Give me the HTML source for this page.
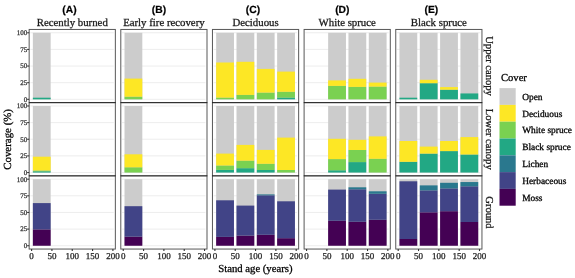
<!DOCTYPE html>
<html><head><meta charset="utf-8"><style>
html,body{margin:0;padding:0;background:#fff;width:575px;height:278px;overflow:hidden}
svg{display:block}
text{text-rendering:geometricPrecision}
.s{font-family:"Liberation Serif",serif;stroke-width:0.28px}
.k{stroke:#000} .g{stroke:#3a3a3a} .g2{stroke:#262626} .d{stroke:#1a1a1a}
.b{font-family:"Liberation Sans",sans-serif;stroke:#000;stroke-width:0.2px}
</style></head><body>
<div style="will-change:transform;width:575px;height:278px"><svg width="575" height="278" viewBox="0 0 575 278">
<rect x="0" y="0" width="575" height="278" fill="#fff"/>
<line x1="30.35" x2="113.75" y1="99.32" y2="99.32" stroke="#EBEBEB" stroke-width="0.9"/>
<line x1="30.35" x2="113.75" y1="82.69" y2="82.69" stroke="#EBEBEB" stroke-width="0.9"/>
<line x1="30.35" x2="113.75" y1="66.05" y2="66.05" stroke="#EBEBEB" stroke-width="0.9"/>
<line x1="30.35" x2="113.75" y1="49.41" y2="49.41" stroke="#EBEBEB" stroke-width="0.9"/>
<line x1="30.35" x2="113.75" y1="32.78" y2="32.78" stroke="#EBEBEB" stroke-width="0.9"/>
<line x1="122.00" x2="205.40" y1="99.32" y2="99.32" stroke="#EBEBEB" stroke-width="0.9"/>
<line x1="122.00" x2="205.40" y1="82.69" y2="82.69" stroke="#EBEBEB" stroke-width="0.9"/>
<line x1="122.00" x2="205.40" y1="66.05" y2="66.05" stroke="#EBEBEB" stroke-width="0.9"/>
<line x1="122.00" x2="205.40" y1="49.41" y2="49.41" stroke="#EBEBEB" stroke-width="0.9"/>
<line x1="122.00" x2="205.40" y1="32.78" y2="32.78" stroke="#EBEBEB" stroke-width="0.9"/>
<line x1="213.65" x2="297.05" y1="99.32" y2="99.32" stroke="#EBEBEB" stroke-width="0.9"/>
<line x1="213.65" x2="297.05" y1="82.69" y2="82.69" stroke="#EBEBEB" stroke-width="0.9"/>
<line x1="213.65" x2="297.05" y1="66.05" y2="66.05" stroke="#EBEBEB" stroke-width="0.9"/>
<line x1="213.65" x2="297.05" y1="49.41" y2="49.41" stroke="#EBEBEB" stroke-width="0.9"/>
<line x1="213.65" x2="297.05" y1="32.78" y2="32.78" stroke="#EBEBEB" stroke-width="0.9"/>
<line x1="305.30" x2="388.70" y1="99.32" y2="99.32" stroke="#EBEBEB" stroke-width="0.9"/>
<line x1="305.30" x2="388.70" y1="82.69" y2="82.69" stroke="#EBEBEB" stroke-width="0.9"/>
<line x1="305.30" x2="388.70" y1="66.05" y2="66.05" stroke="#EBEBEB" stroke-width="0.9"/>
<line x1="305.30" x2="388.70" y1="49.41" y2="49.41" stroke="#EBEBEB" stroke-width="0.9"/>
<line x1="305.30" x2="388.70" y1="32.78" y2="32.78" stroke="#EBEBEB" stroke-width="0.9"/>
<line x1="396.95" x2="480.35" y1="99.32" y2="99.32" stroke="#EBEBEB" stroke-width="0.9"/>
<line x1="396.95" x2="480.35" y1="82.69" y2="82.69" stroke="#EBEBEB" stroke-width="0.9"/>
<line x1="396.95" x2="480.35" y1="66.05" y2="66.05" stroke="#EBEBEB" stroke-width="0.9"/>
<line x1="396.95" x2="480.35" y1="49.41" y2="49.41" stroke="#EBEBEB" stroke-width="0.9"/>
<line x1="396.95" x2="480.35" y1="32.78" y2="32.78" stroke="#EBEBEB" stroke-width="0.9"/>
<line x1="30.35" x2="113.75" y1="172.52" y2="172.52" stroke="#EBEBEB" stroke-width="0.9"/>
<line x1="30.35" x2="113.75" y1="155.89" y2="155.89" stroke="#EBEBEB" stroke-width="0.9"/>
<line x1="30.35" x2="113.75" y1="139.25" y2="139.25" stroke="#EBEBEB" stroke-width="0.9"/>
<line x1="30.35" x2="113.75" y1="122.61" y2="122.61" stroke="#EBEBEB" stroke-width="0.9"/>
<line x1="30.35" x2="113.75" y1="105.98" y2="105.98" stroke="#EBEBEB" stroke-width="0.9"/>
<line x1="122.00" x2="205.40" y1="172.52" y2="172.52" stroke="#EBEBEB" stroke-width="0.9"/>
<line x1="122.00" x2="205.40" y1="155.89" y2="155.89" stroke="#EBEBEB" stroke-width="0.9"/>
<line x1="122.00" x2="205.40" y1="139.25" y2="139.25" stroke="#EBEBEB" stroke-width="0.9"/>
<line x1="122.00" x2="205.40" y1="122.61" y2="122.61" stroke="#EBEBEB" stroke-width="0.9"/>
<line x1="122.00" x2="205.40" y1="105.98" y2="105.98" stroke="#EBEBEB" stroke-width="0.9"/>
<line x1="213.65" x2="297.05" y1="172.52" y2="172.52" stroke="#EBEBEB" stroke-width="0.9"/>
<line x1="213.65" x2="297.05" y1="155.89" y2="155.89" stroke="#EBEBEB" stroke-width="0.9"/>
<line x1="213.65" x2="297.05" y1="139.25" y2="139.25" stroke="#EBEBEB" stroke-width="0.9"/>
<line x1="213.65" x2="297.05" y1="122.61" y2="122.61" stroke="#EBEBEB" stroke-width="0.9"/>
<line x1="213.65" x2="297.05" y1="105.98" y2="105.98" stroke="#EBEBEB" stroke-width="0.9"/>
<line x1="305.30" x2="388.70" y1="172.52" y2="172.52" stroke="#EBEBEB" stroke-width="0.9"/>
<line x1="305.30" x2="388.70" y1="155.89" y2="155.89" stroke="#EBEBEB" stroke-width="0.9"/>
<line x1="305.30" x2="388.70" y1="139.25" y2="139.25" stroke="#EBEBEB" stroke-width="0.9"/>
<line x1="305.30" x2="388.70" y1="122.61" y2="122.61" stroke="#EBEBEB" stroke-width="0.9"/>
<line x1="305.30" x2="388.70" y1="105.98" y2="105.98" stroke="#EBEBEB" stroke-width="0.9"/>
<line x1="396.95" x2="480.35" y1="172.52" y2="172.52" stroke="#EBEBEB" stroke-width="0.9"/>
<line x1="396.95" x2="480.35" y1="155.89" y2="155.89" stroke="#EBEBEB" stroke-width="0.9"/>
<line x1="396.95" x2="480.35" y1="139.25" y2="139.25" stroke="#EBEBEB" stroke-width="0.9"/>
<line x1="396.95" x2="480.35" y1="122.61" y2="122.61" stroke="#EBEBEB" stroke-width="0.9"/>
<line x1="396.95" x2="480.35" y1="105.98" y2="105.98" stroke="#EBEBEB" stroke-width="0.9"/>
<line x1="30.35" x2="113.75" y1="245.72" y2="245.72" stroke="#EBEBEB" stroke-width="0.9"/>
<line x1="30.35" x2="113.75" y1="229.09" y2="229.09" stroke="#EBEBEB" stroke-width="0.9"/>
<line x1="30.35" x2="113.75" y1="212.45" y2="212.45" stroke="#EBEBEB" stroke-width="0.9"/>
<line x1="30.35" x2="113.75" y1="195.81" y2="195.81" stroke="#EBEBEB" stroke-width="0.9"/>
<line x1="30.35" x2="113.75" y1="179.18" y2="179.18" stroke="#EBEBEB" stroke-width="0.9"/>
<line x1="122.00" x2="205.40" y1="245.72" y2="245.72" stroke="#EBEBEB" stroke-width="0.9"/>
<line x1="122.00" x2="205.40" y1="229.09" y2="229.09" stroke="#EBEBEB" stroke-width="0.9"/>
<line x1="122.00" x2="205.40" y1="212.45" y2="212.45" stroke="#EBEBEB" stroke-width="0.9"/>
<line x1="122.00" x2="205.40" y1="195.81" y2="195.81" stroke="#EBEBEB" stroke-width="0.9"/>
<line x1="122.00" x2="205.40" y1="179.18" y2="179.18" stroke="#EBEBEB" stroke-width="0.9"/>
<line x1="213.65" x2="297.05" y1="245.72" y2="245.72" stroke="#EBEBEB" stroke-width="0.9"/>
<line x1="213.65" x2="297.05" y1="229.09" y2="229.09" stroke="#EBEBEB" stroke-width="0.9"/>
<line x1="213.65" x2="297.05" y1="212.45" y2="212.45" stroke="#EBEBEB" stroke-width="0.9"/>
<line x1="213.65" x2="297.05" y1="195.81" y2="195.81" stroke="#EBEBEB" stroke-width="0.9"/>
<line x1="213.65" x2="297.05" y1="179.18" y2="179.18" stroke="#EBEBEB" stroke-width="0.9"/>
<line x1="305.30" x2="388.70" y1="245.72" y2="245.72" stroke="#EBEBEB" stroke-width="0.9"/>
<line x1="305.30" x2="388.70" y1="229.09" y2="229.09" stroke="#EBEBEB" stroke-width="0.9"/>
<line x1="305.30" x2="388.70" y1="212.45" y2="212.45" stroke="#EBEBEB" stroke-width="0.9"/>
<line x1="305.30" x2="388.70" y1="195.81" y2="195.81" stroke="#EBEBEB" stroke-width="0.9"/>
<line x1="305.30" x2="388.70" y1="179.18" y2="179.18" stroke="#EBEBEB" stroke-width="0.9"/>
<line x1="396.95" x2="480.35" y1="245.72" y2="245.72" stroke="#EBEBEB" stroke-width="0.9"/>
<line x1="396.95" x2="480.35" y1="229.09" y2="229.09" stroke="#EBEBEB" stroke-width="0.9"/>
<line x1="396.95" x2="480.35" y1="212.45" y2="212.45" stroke="#EBEBEB" stroke-width="0.9"/>
<line x1="396.95" x2="480.35" y1="195.81" y2="195.81" stroke="#EBEBEB" stroke-width="0.9"/>
<line x1="396.95" x2="480.35" y1="179.18" y2="179.18" stroke="#EBEBEB" stroke-width="0.9"/>
<rect x="32.86" y="32.78" width="17.8" height="66.55" fill="#CCCCCC"/>
<rect x="32.86" y="97.70" width="17.8" height="1.62" fill="#22A884"/>
<rect x="124.51" y="32.78" width="17.8" height="66.55" fill="#CCCCCC"/>
<rect x="124.51" y="96.70" width="17.8" height="2.62" fill="#7AD151"/>
<rect x="124.51" y="78.60" width="17.8" height="18.10" fill="#FDE725"/>
<rect x="216.16" y="32.78" width="17.8" height="66.55" fill="#CCCCCC"/>
<rect x="216.16" y="97.60" width="17.8" height="1.72" fill="#7AD151"/>
<rect x="216.16" y="62.50" width="17.8" height="35.10" fill="#FDE725"/>
<rect x="236.49" y="32.78" width="17.8" height="66.55" fill="#CCCCCC"/>
<rect x="236.49" y="94.90" width="17.8" height="4.42" fill="#7AD151"/>
<rect x="236.49" y="61.80" width="17.8" height="33.10" fill="#FDE725"/>
<rect x="256.81" y="32.78" width="17.8" height="66.55" fill="#CCCCCC"/>
<rect x="256.81" y="92.60" width="17.8" height="6.72" fill="#7AD151"/>
<rect x="256.81" y="68.90" width="17.8" height="23.70" fill="#FDE725"/>
<rect x="277.14" y="32.78" width="17.8" height="66.55" fill="#CCCCCC"/>
<rect x="277.14" y="97.60" width="17.8" height="1.72" fill="#22A884"/>
<rect x="277.14" y="91.80" width="17.8" height="5.80" fill="#7AD151"/>
<rect x="277.14" y="71.60" width="17.8" height="20.20" fill="#FDE725"/>
<rect x="328.14" y="32.78" width="17.8" height="66.55" fill="#CCCCCC"/>
<rect x="328.14" y="85.90" width="17.8" height="13.42" fill="#7AD151"/>
<rect x="328.14" y="80.40" width="17.8" height="5.50" fill="#FDE725"/>
<rect x="348.46" y="32.78" width="17.8" height="66.55" fill="#CCCCCC"/>
<rect x="348.46" y="86.90" width="17.8" height="12.42" fill="#7AD151"/>
<rect x="348.46" y="78.80" width="17.8" height="8.10" fill="#FDE725"/>
<rect x="368.79" y="32.78" width="17.8" height="66.55" fill="#CCCCCC"/>
<rect x="368.79" y="86.60" width="17.8" height="12.72" fill="#7AD151"/>
<rect x="368.79" y="82.60" width="17.8" height="4.00" fill="#FDE725"/>
<rect x="399.46" y="32.78" width="17.8" height="66.55" fill="#CCCCCC"/>
<rect x="399.46" y="97.70" width="17.8" height="1.62" fill="#22A884"/>
<rect x="419.79" y="32.78" width="17.8" height="66.55" fill="#CCCCCC"/>
<rect x="419.79" y="83.20" width="17.8" height="16.12" fill="#22A884"/>
<rect x="419.79" y="79.80" width="17.8" height="3.40" fill="#FDE725"/>
<rect x="440.11" y="32.78" width="17.8" height="66.55" fill="#CCCCCC"/>
<rect x="440.11" y="89.70" width="17.8" height="9.62" fill="#22A884"/>
<rect x="440.11" y="87.10" width="17.8" height="2.60" fill="#FDE725"/>
<rect x="460.44" y="32.78" width="17.8" height="66.55" fill="#CCCCCC"/>
<rect x="460.44" y="93.45" width="17.8" height="5.87" fill="#22A884"/>
<rect x="32.86" y="105.98" width="17.8" height="66.55" fill="#CCCCCC"/>
<rect x="32.86" y="171.30" width="17.8" height="1.22" fill="#22A884"/>
<rect x="32.86" y="170.50" width="17.8" height="0.80" fill="#7AD151"/>
<rect x="32.86" y="156.70" width="17.8" height="13.80" fill="#FDE725"/>
<rect x="124.51" y="105.98" width="17.8" height="66.55" fill="#CCCCCC"/>
<rect x="124.51" y="167.30" width="17.8" height="5.22" fill="#7AD151"/>
<rect x="124.51" y="154.30" width="17.8" height="13.00" fill="#FDE725"/>
<rect x="216.16" y="105.98" width="17.8" height="66.55" fill="#CCCCCC"/>
<rect x="216.16" y="169.90" width="17.8" height="2.62" fill="#22A884"/>
<rect x="216.16" y="165.50" width="17.8" height="4.40" fill="#7AD151"/>
<rect x="216.16" y="153.60" width="17.8" height="11.90" fill="#FDE725"/>
<rect x="236.49" y="105.98" width="17.8" height="66.55" fill="#CCCCCC"/>
<rect x="236.49" y="168.20" width="17.8" height="4.32" fill="#22A884"/>
<rect x="236.49" y="160.70" width="17.8" height="7.50" fill="#7AD151"/>
<rect x="236.49" y="144.90" width="17.8" height="15.80" fill="#FDE725"/>
<rect x="256.81" y="105.98" width="17.8" height="66.55" fill="#CCCCCC"/>
<rect x="256.81" y="170.00" width="17.8" height="2.52" fill="#22A884"/>
<rect x="256.81" y="163.80" width="17.8" height="6.20" fill="#7AD151"/>
<rect x="256.81" y="149.90" width="17.8" height="13.90" fill="#FDE725"/>
<rect x="277.14" y="105.98" width="17.8" height="66.55" fill="#CCCCCC"/>
<rect x="277.14" y="170.00" width="17.8" height="2.52" fill="#7AD151"/>
<rect x="277.14" y="137.60" width="17.8" height="32.40" fill="#FDE725"/>
<rect x="328.14" y="105.98" width="17.8" height="66.55" fill="#CCCCCC"/>
<rect x="328.14" y="170.30" width="17.8" height="2.22" fill="#22A884"/>
<rect x="328.14" y="159.10" width="17.8" height="11.20" fill="#7AD151"/>
<rect x="328.14" y="138.80" width="17.8" height="20.30" fill="#FDE725"/>
<rect x="348.46" y="105.98" width="17.8" height="66.55" fill="#CCCCCC"/>
<rect x="348.46" y="162.10" width="17.8" height="10.42" fill="#22A884"/>
<rect x="348.46" y="150.00" width="17.8" height="12.10" fill="#7AD151"/>
<rect x="348.46" y="139.80" width="17.8" height="10.20" fill="#FDE725"/>
<rect x="368.79" y="105.98" width="17.8" height="66.55" fill="#CCCCCC"/>
<rect x="368.79" y="158.80" width="17.8" height="13.72" fill="#7AD151"/>
<rect x="368.79" y="136.40" width="17.8" height="22.40" fill="#FDE725"/>
<rect x="399.46" y="105.98" width="17.8" height="66.55" fill="#CCCCCC"/>
<rect x="399.46" y="161.80" width="17.8" height="10.72" fill="#22A884"/>
<rect x="399.46" y="141.00" width="17.8" height="20.80" fill="#FDE725"/>
<rect x="419.79" y="105.98" width="17.8" height="66.55" fill="#CCCCCC"/>
<rect x="419.79" y="153.60" width="17.8" height="18.92" fill="#22A884"/>
<rect x="419.79" y="146.60" width="17.8" height="7.00" fill="#FDE725"/>
<rect x="440.11" y="105.98" width="17.8" height="66.55" fill="#CCCCCC"/>
<rect x="440.11" y="151.10" width="17.8" height="21.42" fill="#22A884"/>
<rect x="440.11" y="141.00" width="17.8" height="10.10" fill="#FDE725"/>
<rect x="460.44" y="105.98" width="17.8" height="66.55" fill="#CCCCCC"/>
<rect x="460.44" y="154.50" width="17.8" height="18.02" fill="#22A884"/>
<rect x="460.44" y="137.10" width="17.8" height="17.40" fill="#FDE725"/>
<rect x="32.86" y="179.18" width="17.8" height="66.55" fill="#CCCCCC"/>
<rect x="32.86" y="229.40" width="17.8" height="16.32" fill="#440154"/>
<rect x="32.86" y="203.10" width="17.8" height="26.30" fill="#414487"/>
<rect x="124.51" y="179.18" width="17.8" height="66.55" fill="#CCCCCC"/>
<rect x="124.51" y="236.65" width="17.8" height="9.07" fill="#440154"/>
<rect x="124.51" y="206.20" width="17.8" height="30.45" fill="#414487"/>
<rect x="216.16" y="179.18" width="17.8" height="66.55" fill="#CCCCCC"/>
<rect x="216.16" y="236.90" width="17.8" height="8.82" fill="#440154"/>
<rect x="216.16" y="200.30" width="17.8" height="36.60" fill="#414487"/>
<rect x="236.49" y="179.18" width="17.8" height="66.55" fill="#CCCCCC"/>
<rect x="236.49" y="235.60" width="17.8" height="10.12" fill="#440154"/>
<rect x="236.49" y="205.60" width="17.8" height="30.00" fill="#414487"/>
<rect x="256.81" y="179.18" width="17.8" height="66.55" fill="#CCCCCC"/>
<rect x="256.81" y="234.80" width="17.8" height="10.92" fill="#440154"/>
<rect x="256.81" y="195.30" width="17.8" height="39.50" fill="#414487"/>
<rect x="256.81" y="194.40" width="17.8" height="0.90" fill="#2A788E"/>
<rect x="277.14" y="179.18" width="17.8" height="66.55" fill="#CCCCCC"/>
<rect x="277.14" y="238.20" width="17.8" height="7.52" fill="#440154"/>
<rect x="277.14" y="201.30" width="17.8" height="36.90" fill="#414487"/>
<rect x="328.14" y="179.18" width="17.8" height="66.55" fill="#CCCCCC"/>
<rect x="328.14" y="220.80" width="17.8" height="24.92" fill="#440154"/>
<rect x="328.14" y="189.60" width="17.8" height="31.20" fill="#414487"/>
<rect x="348.46" y="179.18" width="17.8" height="66.55" fill="#CCCCCC"/>
<rect x="348.46" y="221.80" width="17.8" height="23.92" fill="#440154"/>
<rect x="348.46" y="189.30" width="17.8" height="32.50" fill="#414487"/>
<rect x="348.46" y="187.30" width="17.8" height="2.00" fill="#2A788E"/>
<rect x="368.79" y="179.18" width="17.8" height="66.55" fill="#CCCCCC"/>
<rect x="368.79" y="219.80" width="17.8" height="25.92" fill="#440154"/>
<rect x="368.79" y="193.80" width="17.8" height="26.00" fill="#414487"/>
<rect x="368.79" y="191.30" width="17.8" height="2.50" fill="#2A788E"/>
<rect x="399.46" y="179.18" width="17.8" height="66.55" fill="#CCCCCC"/>
<rect x="399.46" y="239.00" width="17.8" height="6.72" fill="#440154"/>
<rect x="399.46" y="181.30" width="17.8" height="57.70" fill="#414487"/>
<rect x="419.79" y="179.18" width="17.8" height="66.55" fill="#CCCCCC"/>
<rect x="419.79" y="212.30" width="17.8" height="33.42" fill="#440154"/>
<rect x="419.79" y="190.37" width="17.8" height="21.93" fill="#414487"/>
<rect x="419.79" y="185.38" width="17.8" height="4.99" fill="#2A788E"/>
<rect x="440.11" y="179.18" width="17.8" height="66.55" fill="#CCCCCC"/>
<rect x="440.11" y="211.20" width="17.8" height="34.52" fill="#440154"/>
<rect x="440.11" y="188.40" width="17.8" height="22.80" fill="#414487"/>
<rect x="440.11" y="182.80" width="17.8" height="5.60" fill="#2A788E"/>
<rect x="460.44" y="179.18" width="17.8" height="66.55" fill="#CCCCCC"/>
<rect x="460.44" y="222.00" width="17.8" height="23.72" fill="#440154"/>
<rect x="460.44" y="186.30" width="17.8" height="35.70" fill="#414487"/>
<rect x="460.44" y="182.05" width="17.8" height="4.25" fill="#2A788E"/>
<rect x="29.15" y="29.45" width="86.20" height="73.20" fill="none" stroke="#000" stroke-opacity="0.66" stroke-width="1.0"/>
<rect x="120.80" y="29.45" width="86.20" height="73.20" fill="none" stroke="#000" stroke-opacity="0.66" stroke-width="1.0"/>
<rect x="212.45" y="29.45" width="86.20" height="73.20" fill="none" stroke="#000" stroke-opacity="0.66" stroke-width="1.0"/>
<rect x="304.10" y="29.45" width="86.20" height="73.20" fill="none" stroke="#000" stroke-opacity="0.66" stroke-width="1.0"/>
<rect x="395.75" y="29.45" width="86.20" height="73.20" fill="none" stroke="#000" stroke-opacity="0.66" stroke-width="1.0"/>
<rect x="29.15" y="102.65" width="86.20" height="73.20" fill="none" stroke="#000" stroke-opacity="0.66" stroke-width="1.0"/>
<rect x="120.80" y="102.65" width="86.20" height="73.20" fill="none" stroke="#000" stroke-opacity="0.66" stroke-width="1.0"/>
<rect x="212.45" y="102.65" width="86.20" height="73.20" fill="none" stroke="#000" stroke-opacity="0.66" stroke-width="1.0"/>
<rect x="304.10" y="102.65" width="86.20" height="73.20" fill="none" stroke="#000" stroke-opacity="0.66" stroke-width="1.0"/>
<rect x="395.75" y="102.65" width="86.20" height="73.20" fill="none" stroke="#000" stroke-opacity="0.66" stroke-width="1.0"/>
<rect x="29.15" y="175.85" width="86.20" height="73.20" fill="none" stroke="#000" stroke-opacity="0.66" stroke-width="1.0"/>
<rect x="120.80" y="175.85" width="86.20" height="73.20" fill="none" stroke="#000" stroke-opacity="0.66" stroke-width="1.0"/>
<rect x="212.45" y="175.85" width="86.20" height="73.20" fill="none" stroke="#000" stroke-opacity="0.66" stroke-width="1.0"/>
<rect x="304.10" y="175.85" width="86.20" height="73.20" fill="none" stroke="#000" stroke-opacity="0.66" stroke-width="1.0"/>
<rect x="395.75" y="175.85" width="86.20" height="73.20" fill="none" stroke="#000" stroke-opacity="0.66" stroke-width="1.0"/>
<line x1="27.15" x2="29.15" y1="99.32" y2="99.32" stroke="#333333" stroke-width="1.1"/>
<text x="27.15" y="101.72" text-anchor="end" font-size="7.0" fill="#3a3a3a" class="s g">0</text>
<line x1="27.15" x2="29.15" y1="82.69" y2="82.69" stroke="#333333" stroke-width="1.1"/>
<text x="27.15" y="85.09" text-anchor="end" font-size="7.0" fill="#3a3a3a" class="s g">25</text>
<line x1="27.15" x2="29.15" y1="66.05" y2="66.05" stroke="#333333" stroke-width="1.1"/>
<text x="27.15" y="68.45" text-anchor="end" font-size="7.0" fill="#3a3a3a" class="s g">50</text>
<line x1="27.15" x2="29.15" y1="49.41" y2="49.41" stroke="#333333" stroke-width="1.1"/>
<text x="27.15" y="51.81" text-anchor="end" font-size="7.0" fill="#3a3a3a" class="s g">75</text>
<line x1="27.15" x2="29.15" y1="32.78" y2="32.78" stroke="#333333" stroke-width="1.1"/>
<text x="27.15" y="35.18" text-anchor="end" font-size="7.0" fill="#3a3a3a" class="s g">100</text>
<line x1="27.15" x2="29.15" y1="172.52" y2="172.52" stroke="#333333" stroke-width="1.1"/>
<text x="27.15" y="174.92" text-anchor="end" font-size="7.0" fill="#3a3a3a" class="s g">0</text>
<line x1="27.15" x2="29.15" y1="155.89" y2="155.89" stroke="#333333" stroke-width="1.1"/>
<text x="27.15" y="158.29" text-anchor="end" font-size="7.0" fill="#3a3a3a" class="s g">25</text>
<line x1="27.15" x2="29.15" y1="139.25" y2="139.25" stroke="#333333" stroke-width="1.1"/>
<text x="27.15" y="141.65" text-anchor="end" font-size="7.0" fill="#3a3a3a" class="s g">50</text>
<line x1="27.15" x2="29.15" y1="122.61" y2="122.61" stroke="#333333" stroke-width="1.1"/>
<text x="27.15" y="125.01" text-anchor="end" font-size="7.0" fill="#3a3a3a" class="s g">75</text>
<line x1="27.15" x2="29.15" y1="105.98" y2="105.98" stroke="#333333" stroke-width="1.1"/>
<text x="27.15" y="108.38" text-anchor="end" font-size="7.0" fill="#3a3a3a" class="s g">100</text>
<line x1="27.15" x2="29.15" y1="245.72" y2="245.72" stroke="#333333" stroke-width="1.1"/>
<text x="27.15" y="248.12" text-anchor="end" font-size="7.0" fill="#3a3a3a" class="s g">0</text>
<line x1="27.15" x2="29.15" y1="229.09" y2="229.09" stroke="#333333" stroke-width="1.1"/>
<text x="27.15" y="231.49" text-anchor="end" font-size="7.0" fill="#3a3a3a" class="s g">25</text>
<line x1="27.15" x2="29.15" y1="212.45" y2="212.45" stroke="#333333" stroke-width="1.1"/>
<text x="27.15" y="214.85" text-anchor="end" font-size="7.0" fill="#3a3a3a" class="s g">50</text>
<line x1="27.15" x2="29.15" y1="195.81" y2="195.81" stroke="#333333" stroke-width="1.1"/>
<text x="27.15" y="198.21" text-anchor="end" font-size="7.0" fill="#3a3a3a" class="s g">75</text>
<line x1="27.15" x2="29.15" y1="179.18" y2="179.18" stroke="#333333" stroke-width="1.1"/>
<text x="27.15" y="181.58" text-anchor="end" font-size="7.0" fill="#3a3a3a" class="s g">100</text>
<line x1="31.60" x2="31.60" y1="249.05" y2="251.05" stroke="#333333" stroke-width="1.1"/>
<text x="31.60" y="258.8" text-anchor="middle" font-size="9.0" fill="#262626" class="s g2">0</text>
<line x1="51.92" x2="51.92" y1="249.05" y2="251.05" stroke="#333333" stroke-width="1.1"/>
<text x="51.92" y="258.8" text-anchor="middle" font-size="9.0" fill="#262626" class="s g2">50</text>
<line x1="72.25" x2="72.25" y1="249.05" y2="251.05" stroke="#333333" stroke-width="1.1"/>
<text x="72.25" y="258.8" text-anchor="middle" font-size="9.0" fill="#262626" class="s g2">100</text>
<line x1="92.57" x2="92.57" y1="249.05" y2="251.05" stroke="#333333" stroke-width="1.1"/>
<text x="92.57" y="258.8" text-anchor="middle" font-size="9.0" fill="#262626" class="s g2">150</text>
<line x1="112.90" x2="112.90" y1="249.05" y2="251.05" stroke="#333333" stroke-width="1.1"/>
<text x="112.90" y="258.8" text-anchor="middle" font-size="9.0" fill="#262626" class="s g2">200</text>
<line x1="123.25" x2="123.25" y1="249.05" y2="251.05" stroke="#333333" stroke-width="1.1"/>
<text x="123.25" y="258.8" text-anchor="middle" font-size="9.0" fill="#262626" class="s g2">0</text>
<line x1="143.58" x2="143.58" y1="249.05" y2="251.05" stroke="#333333" stroke-width="1.1"/>
<text x="143.58" y="258.8" text-anchor="middle" font-size="9.0" fill="#262626" class="s g2">50</text>
<line x1="163.90" x2="163.90" y1="249.05" y2="251.05" stroke="#333333" stroke-width="1.1"/>
<text x="163.90" y="258.8" text-anchor="middle" font-size="9.0" fill="#262626" class="s g2">100</text>
<line x1="184.23" x2="184.23" y1="249.05" y2="251.05" stroke="#333333" stroke-width="1.1"/>
<text x="184.23" y="258.8" text-anchor="middle" font-size="9.0" fill="#262626" class="s g2">150</text>
<line x1="204.55" x2="204.55" y1="249.05" y2="251.05" stroke="#333333" stroke-width="1.1"/>
<text x="204.55" y="258.8" text-anchor="middle" font-size="9.0" fill="#262626" class="s g2">200</text>
<line x1="214.90" x2="214.90" y1="249.05" y2="251.05" stroke="#333333" stroke-width="1.1"/>
<text x="214.90" y="258.8" text-anchor="middle" font-size="9.0" fill="#262626" class="s g2">0</text>
<line x1="235.22" x2="235.22" y1="249.05" y2="251.05" stroke="#333333" stroke-width="1.1"/>
<text x="235.22" y="258.8" text-anchor="middle" font-size="9.0" fill="#262626" class="s g2">50</text>
<line x1="255.55" x2="255.55" y1="249.05" y2="251.05" stroke="#333333" stroke-width="1.1"/>
<text x="255.55" y="258.8" text-anchor="middle" font-size="9.0" fill="#262626" class="s g2">100</text>
<line x1="275.88" x2="275.88" y1="249.05" y2="251.05" stroke="#333333" stroke-width="1.1"/>
<text x="275.88" y="258.8" text-anchor="middle" font-size="9.0" fill="#262626" class="s g2">150</text>
<line x1="296.20" x2="296.20" y1="249.05" y2="251.05" stroke="#333333" stroke-width="1.1"/>
<text x="296.20" y="258.8" text-anchor="middle" font-size="9.0" fill="#262626" class="s g2">200</text>
<line x1="306.55" x2="306.55" y1="249.05" y2="251.05" stroke="#333333" stroke-width="1.1"/>
<text x="306.55" y="258.8" text-anchor="middle" font-size="9.0" fill="#262626" class="s g2">0</text>
<line x1="326.88" x2="326.88" y1="249.05" y2="251.05" stroke="#333333" stroke-width="1.1"/>
<text x="326.88" y="258.8" text-anchor="middle" font-size="9.0" fill="#262626" class="s g2">50</text>
<line x1="347.20" x2="347.20" y1="249.05" y2="251.05" stroke="#333333" stroke-width="1.1"/>
<text x="347.20" y="258.8" text-anchor="middle" font-size="9.0" fill="#262626" class="s g2">100</text>
<line x1="367.52" x2="367.52" y1="249.05" y2="251.05" stroke="#333333" stroke-width="1.1"/>
<text x="367.52" y="258.8" text-anchor="middle" font-size="9.0" fill="#262626" class="s g2">150</text>
<line x1="387.85" x2="387.85" y1="249.05" y2="251.05" stroke="#333333" stroke-width="1.1"/>
<text x="387.85" y="258.8" text-anchor="middle" font-size="9.0" fill="#262626" class="s g2">200</text>
<line x1="398.20" x2="398.20" y1="249.05" y2="251.05" stroke="#333333" stroke-width="1.1"/>
<text x="398.20" y="258.8" text-anchor="middle" font-size="9.0" fill="#262626" class="s g2">0</text>
<line x1="418.52" x2="418.52" y1="249.05" y2="251.05" stroke="#333333" stroke-width="1.1"/>
<text x="418.52" y="258.8" text-anchor="middle" font-size="9.0" fill="#262626" class="s g2">50</text>
<line x1="438.85" x2="438.85" y1="249.05" y2="251.05" stroke="#333333" stroke-width="1.1"/>
<text x="438.85" y="258.8" text-anchor="middle" font-size="9.0" fill="#262626" class="s g2">100</text>
<line x1="459.17" x2="459.17" y1="249.05" y2="251.05" stroke="#333333" stroke-width="1.1"/>
<text x="459.17" y="258.8" text-anchor="middle" font-size="9.0" fill="#262626" class="s g2">150</text>
<line x1="479.50" x2="479.50" y1="249.05" y2="251.05" stroke="#333333" stroke-width="1.1"/>
<text x="479.50" y="258.8" text-anchor="middle" font-size="9.0" fill="#262626" class="s g2">200</text>
<text x="69.45" y="13.3" text-anchor="middle" font-size="10.3" font-weight="bold" fill="#000" class="b">(A)</text>
<text x="72.25" y="26.4" text-anchor="middle" font-size="10.8" fill="#1a1a1a" class="s d">Recently burned</text>
<text x="159.00" y="13.3" text-anchor="middle" font-size="10.3" font-weight="bold" fill="#000" class="b">(B)</text>
<text x="163.90" y="26.4" text-anchor="middle" font-size="10.8" fill="#1a1a1a" class="s d">Early fire recovery</text>
<text x="253.00" y="13.3" text-anchor="middle" font-size="10.3" font-weight="bold" fill="#000" class="b">(C)</text>
<text x="255.55" y="26.4" text-anchor="middle" font-size="10.8" fill="#1a1a1a" class="s d">Deciduous</text>
<text x="342.30" y="13.3" text-anchor="middle" font-size="10.3" font-weight="bold" fill="#000" class="b">(D)</text>
<text x="347.20" y="26.4" text-anchor="middle" font-size="10.8" fill="#1a1a1a" class="s d">White spruce</text>
<text x="431.40" y="13.3" text-anchor="middle" font-size="10.3" font-weight="bold" fill="#000" class="b">(E)</text>
<text x="438.85" y="26.4" text-anchor="middle" font-size="10.8" fill="#1a1a1a" class="s d">Black spruce</text>
<text transform="translate(486.0 66.05) rotate(90)" x="0" y="0" text-anchor="middle" font-size="10.6" fill="#1a1a1a" class="s d">Upper canopy</text>
<text transform="translate(486.0 139.25) rotate(90)" x="0" y="0" text-anchor="middle" font-size="10.6" fill="#1a1a1a" class="s d">Lower canopy</text>
<text transform="translate(486.0 212.45) rotate(90)" x="0" y="0" text-anchor="middle" font-size="10.6" fill="#1a1a1a" class="s d">Ground</text>
<text transform="translate(10.8 139.4) rotate(-90)" x="0" y="0" text-anchor="middle" font-size="10.9" fill="#000" class="s k">Coverage (%)</text>
<text x="255.4" y="271.7" text-anchor="middle" font-size="10.7" fill="#000" class="s k">Stand age (years)</text>
<text x="501.0" y="80.6" font-size="10.6" fill="#000" class="s k">Cover</text>
<rect x="499.5" y="88.10" width="16.2" height="16.80" fill="#CCCCCC"/>
<text x="522.2" y="99.70" font-size="9.4" fill="#000" class="s k">Open</text>
<rect x="499.5" y="104.90" width="16.2" height="16.80" fill="#FDE725"/>
<text x="522.2" y="116.50" font-size="9.4" fill="#000" class="s k">Deciduous</text>
<rect x="499.5" y="121.70" width="16.2" height="16.80" fill="#7AD151"/>
<text x="522.2" y="133.30" font-size="9.4" fill="#000" class="s k">White spruce</text>
<rect x="499.5" y="138.50" width="16.2" height="16.80" fill="#22A884"/>
<text x="522.2" y="150.10" font-size="9.4" fill="#000" class="s k">Black spruce</text>
<rect x="499.5" y="155.30" width="16.2" height="16.80" fill="#2A788E"/>
<text x="522.2" y="166.90" font-size="9.4" fill="#000" class="s k">Lichen</text>
<rect x="499.5" y="172.10" width="16.2" height="16.80" fill="#414487"/>
<text x="522.2" y="183.70" font-size="9.4" fill="#000" class="s k">Herbaceous</text>
<rect x="499.5" y="188.90" width="16.2" height="16.80" fill="#440154"/>
<text x="522.2" y="200.50" font-size="9.4" fill="#000" class="s k">Moss</text>
</svg></div></body></html>
